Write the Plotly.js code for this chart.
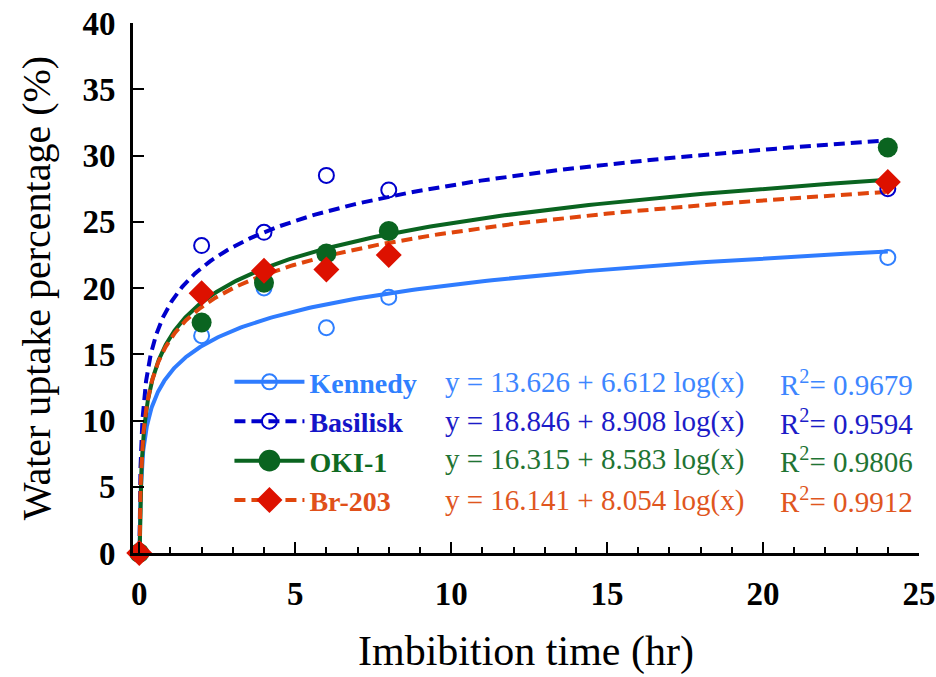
<!DOCTYPE html>
<html>
<head>
<meta charset="utf-8">
<script src="https://cdn.plot.ly/plotly-3.0.1.min.js"></script>
<style>html,body{margin:0;padding:0;background:#fff;}#chart{width:936px;height:677px;}</style>
</head>
<body>
<div id="chart"></div>
<script>
// ---- data ----
var cultivars = ['Kennedy', 'Basilisk', 'OKI-1', 'Br-203'];
var timeHr = [0, 2, 4, 6, 8, 24];
var kennedyUptake  = [0, 16.4, 20.0, 17.0, 19.3, 22.3];
var basiliskUptake = [0, 23.2, 24.2, 28.5, 27.4, 27.5];
var oki1Uptake     = [0, 17.4, 20.4, 22.6, 24.3, 30.6];
var br203Uptake    = [0, 19.6, 21.3, 21.4, 22.5, 28.0];
// fitted model y = a + b*log10(x), as printed on the chart
var fitIntercept = [13.626, 18.846, 16.315, 16.141];
var fitSlope     = [6.612, 8.908, 8.583, 8.054];
var fitR2        = ['0.9679', '0.9594', '0.9806', '0.9912'];
var fitEnd = 24;

// ---- styles ----
var lineColors   = ['#2f7cff', '#0000cc', '#0a6420', '#e0450c'];
var markerColors = ['#2f7fff', '#0000cc', '#0a6420', '#dd1100'];
var textColors   = ['#3d86ff', '#1c1cc8', '#1f7433', '#e0561e'];
var legendColors = ['#2f80ff', '#1515c8', '#0f6a22', '#e0501a'];
var dashes = ['solid', '11px,6px', 'solid', '11px,6px'];
var symbols = ['circle-open', 'circle-open', 'circle', 'diamond'];
var msizes = [15, 15, 20, 20];
var legendScale = [1, 1, 1.35, 1.25];
var series = [kennedyUptake, basiliskUptake, oki1Uptake, br203Uptake];
var serif = 'Liberation Serif, Times New Roman, serif';

var traces = [];
// fitted curves
for (var i = 0; i < 4; i++) {
  var a = fitIntercept[i], b = fitSlope[i];
  var x0 = Math.pow(10, -a / b);
  var fx = [], fy = [];
  var n = 400;
  for (var k = 0; k <= n; k++) {
    var xv = Math.pow(10, Math.log10(x0) + (Math.log10(fitEnd) - Math.log10(x0)) * k / n);
    fx.push(xv);
    fy.push(a + b * Math.log10(xv));
  }
  traces.push({
    x: fx, y: fy, type: 'scatter', mode: 'lines', showlegend: false,
    line: {color: lineColors[i], width: 4, dash: dashes[i]},
    hoverinfo: 'skip', cliponaxis: false
  });
}
// observed points
for (var i = 0; i < 4; i++) {
  traces.push({
    x: timeHr, y: series[i], type: 'scatter', mode: 'markers', showlegend: false,
    marker: {symbol: symbols[i], size: msizes[i], color: markerColors[i],
             line: {color: markerColors[i], width: (i < 2 ? 2 : 0)}},
    cliponaxis: false
  });
}
// legend entries
for (var i = 0; i < 4; i++) {
  traces.push({
    x: [null], y: [null], type: 'scatter', mode: 'lines+markers',
    name: '<span style="color:' + legendColors[i] + '">' + cultivars[i] + '</span>',
    legendgroup: 'g' + i,
    line: {color: lineColors[i], width: 4, dash: dashes[i]},
    marker: {symbol: symbols[i], size: msizes[i], color: markerColors[i],
             line: {color: markerColors[i], width: (i < 2 ? 2 : 0)}}
  });
}

var rowY = [0.3208, 0.2472, 0.1755, 0.100];
var annotations = [];
for (var i = 0; i < 4; i++) {
  annotations.push({
    xref: 'paper', yref: 'paper', x: 0.3944, y: rowY[i], xanchor: 'left', yanchor: 'middle',
    text: 'y = ' + fitIntercept[i].toFixed(3) + ' + ' + fitSlope[i].toFixed(3) + ' log(x)',
    showarrow: false, font: {family: serif, size: 29, color: textColors[i]}
  });
  annotations.push({
    xref: 'paper', yref: 'paper', x: 0.8206, y: rowY[i], xanchor: 'left', yanchor: 'middle',
    text: 'R<sup>2</sup>= ' + fitR2[i],
    showarrow: false, font: {family: serif, size: 29, color: textColors[i]}
  });
}

var layout = {
  width: 936, height: 677,
  margin: {l: 133, r: 17, t: 23, b: 124},
  paper_bgcolor: '#fff', plot_bgcolor: '#fff',
  showlegend: true,
  legend: {
    x: 0.1227, y: 0.3695, xanchor: 'left', yanchor: 'top',
    bgcolor: 'rgba(0,0,0,0)', borderwidth: 0,
    font: {family: serif, size: 28, weight: 'bold', color: '#000'},
    itemwidth: 70, tracegroupgap: 0
  },
  xaxis: {
    range: [-0.2, 25], tickvals: [0, 5, 10, 15, 20, 25],
    ticks: 'inside', ticklen: 11, tickwidth: 2, tickcolor: '#000',
    minor: {dtick: 1, ticks: 'inside', ticklen: 6, tickwidth: 2, tickcolor: '#000'},
    showline: true, linewidth: 3, linecolor: '#000',
    showgrid: false, zeroline: false, ticklabelstandoff: 9,
    tickfont: {family: serif, size: 33, weight: 'bold', color: '#000'},
    title: {text: 'Imbibition time (hr)', standoff: 26,
            font: {family: serif, size: 42, color: '#000'}}
  },
  yaxis: {
    range: [0, 40], dtick: 5, tick0: 0,
    ticks: 'inside', ticklen: 11, tickwidth: 2, tickcolor: '#000',
    showline: true, linewidth: 3, linecolor: '#000',
    showgrid: false, zeroline: false, ticklabelstandoff: 8,
    tickfont: {family: serif, size: 33, weight: 'bold', color: '#000'},
    title: {text: 'Water uptake percentage (%)', standoff: 20,
            font: {family: serif, size: 40, color: '#000'}}
  },
  annotations: annotations,
  hovermode: false
};

Plotly.newPlot('chart', traces, layout, {displayModeBar: false, staticPlot: true}).then(function (gd) {
  // lengthen the legend line samples and centre the markers on them, as in the reference
  var items = gd.querySelectorAll('.legend .traces');
  items.forEach(function (item, idx) {
    item.querySelectorAll('.legendlines path').forEach(function (p) { p.setAttribute('d', 'M5,0h70'); });
    item.querySelectorAll('.legendpoints path').forEach(function (p) {
      p.setAttribute('transform', 'translate(40,0) scale(' + legendScale[idx] + ')');
    });
  });
});
</script>
</body>
</html>
